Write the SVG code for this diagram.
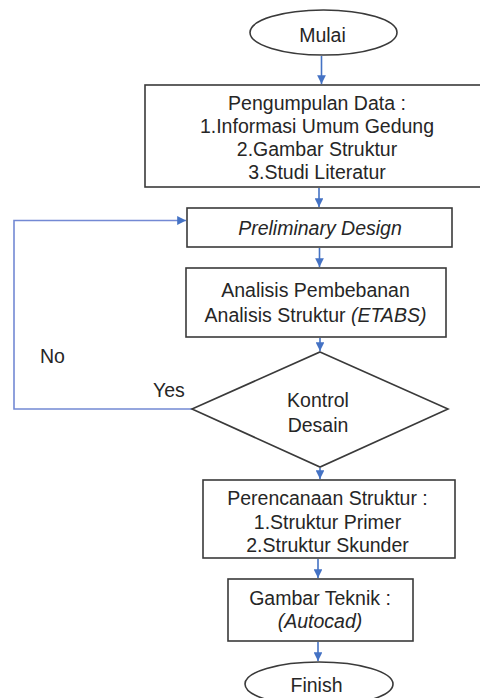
<svg xmlns="http://www.w3.org/2000/svg" width="480" height="698" viewBox="0 0 480 698">
<defs>
<style>
.box{fill:#fff;stroke:#3a3a3a;stroke-width:1.6}
.t{font-family:"Liberation Sans",Arial,sans-serif;font-size:19.5px;fill:#262626;text-anchor:middle}
.i{font-style:italic}
.lbl{font-family:"Liberation Sans",Arial,sans-serif;font-size:19.5px;fill:#262626}
.c{fill:none;stroke:#4472C4;stroke-width:1.6}
.fb{fill:none;stroke:#7389d4;stroke-width:1.6}
</style>
<marker id="ah" viewBox="0 0 10 10" refX="10" refY="5" markerWidth="5.5" markerHeight="5.5" markerUnits="strokeWidth" orient="auto">
<path d="M0,0 L10,5 L0,10 z" fill="#4472C4"/>
</marker>
</defs>
<rect width="480" height="698" fill="#fff"/>
<g id="connectors">
<line class="c" x1="321.5" y1="56" x2="321.5" y2="84" marker-end="url(#ah)"/>
<line class="c" x1="319" y1="188" x2="319" y2="207" marker-end="url(#ah)"/>
<line class="c" x1="319.5" y1="248" x2="319.5" y2="267" marker-end="url(#ah)"/>
<line class="c" x1="320" y1="338" x2="320" y2="351" marker-end="url(#ah)"/>
<line class="c" x1="320" y1="468" x2="320" y2="479" marker-end="url(#ah)"/>
<line class="c" x1="318" y1="559" x2="318" y2="578" marker-end="url(#ah)"/>
<line class="c" x1="318" y1="642" x2="318" y2="661" marker-end="url(#ah)"/>
<polyline class="fb" points="192,409 14,409 14,220.5 186,220.5" marker-end="url(#ah)"/>
</g>
<g id="mulai">
<ellipse class="box" cx="323.5" cy="32.5" rx="73.5" ry="22.5"/>
<text class="t" x="322.5" y="41.5">Mulai</text>
</g>
<g id="pengumpulan">
<rect class="box" x="145" y="85" width="345" height="102"/>
<text class="t" x="317" y="110">Pengumpulan Data :</text>
<text class="t" x="317" y="133">1.Informasi Umum Gedung</text>
<text class="t" x="317" y="156">2.Gambar Struktur</text>
<text class="t" x="317" y="178.5">3.Studi Literatur</text>
</g>
<g id="preliminary">
<rect class="box" x="187" y="208" width="265" height="39"/>
<text class="t i" x="320" y="235">Preliminary Design</text>
</g>
<g id="analisis">
<rect class="box" x="186" y="268" width="260" height="69"/>
<text class="t" x="315.5" y="297">Analisis Pembebanan</text>
<text class="t" x="315.5" y="321.5">Analisis Struktur <tspan class="i">(ETABS)</tspan></text>
</g>
<g id="kontrol">
<polygon class="box" points="320,352 448,409 320,467 192,409"/>
<text class="t" x="318" y="406.5">Kontrol</text>
<text class="t" x="318" y="431.5">Desain</text>
</g>
<g id="labels">
<text class="lbl" x="40" y="363">No</text>
<text class="lbl" x="153" y="397">Yes</text>
</g>
<g id="perencanaan">
<rect class="box" x="203" y="480" width="252" height="78"/>
<text class="t" x="327.5" y="505">Perencanaan Struktur :</text>
<text class="t" x="327.5" y="529">1.Struktur Primer</text>
<text class="t" x="327.5" y="552">2.Struktur Skunder</text>
</g>
<g id="gambar">
<rect class="box" x="228" y="579" width="185" height="62"/>
<text class="t" x="320" y="605">Gambar Teknik :</text>
<text class="t i" x="320" y="627.5">(Autocad)</text>
</g>
<g id="finish">
<ellipse class="box" cx="319" cy="684" rx="74" ry="22"/>
<text class="t" x="316.5" y="691.5">Finish</text>
</g>
</svg>
